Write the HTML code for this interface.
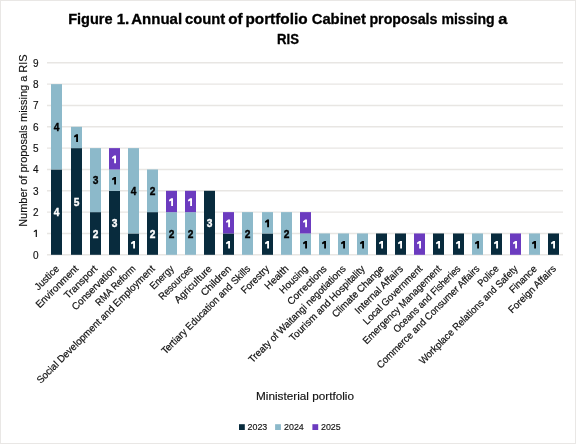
<!DOCTYPE html>
<html><head><meta charset="utf-8"><style>
html,body{margin:0;padding:0;background:#fff;}
svg{display:block;will-change:transform;font-family:"Liberation Sans",sans-serif;}
</style></head><body>
<svg width="576" height="444" viewBox="0 0 576 444">
<rect x="0.5" y="0.5" width="575" height="443" fill="#fff" stroke="#e9e7e5" stroke-width="1"/>
<text x="68.15" y="23.8" font-weight="bold" font-size="14.5" fill="#000" stroke="#000" stroke-width="0.3" textLength="44.45" lengthAdjust="spacingAndGlyphs">Figure</text>
<text x="116.70" y="23.8" font-weight="bold" font-size="14.5" fill="#000" stroke="#000" stroke-width="0.3" textLength="12.65" lengthAdjust="spacingAndGlyphs">1.</text>
<text x="131.30" y="23.8" font-weight="bold" font-size="14.5" fill="#000" stroke="#000" stroke-width="0.3" textLength="50.80" lengthAdjust="spacingAndGlyphs">Annual</text>
<text x="185.00" y="23.8" font-weight="bold" font-size="14.5" fill="#000" stroke="#000" stroke-width="0.3" textLength="40.20" lengthAdjust="spacingAndGlyphs">count</text>
<text x="228.15" y="23.8" font-weight="bold" font-size="14.5" fill="#000" stroke="#000" stroke-width="0.3" textLength="14.35" lengthAdjust="spacingAndGlyphs">of</text>
<text x="245.40" y="23.8" font-weight="bold" font-size="14.5" fill="#000" stroke="#000" stroke-width="0.3" textLength="62.20" lengthAdjust="spacingAndGlyphs">portfolio</text>
<text x="311.70" y="23.8" font-weight="bold" font-size="14.5" fill="#000" stroke="#000" stroke-width="0.3" textLength="54.30" lengthAdjust="spacingAndGlyphs">Cabinet</text>
<text x="369.40" y="23.8" font-weight="bold" font-size="14.5" fill="#000" stroke="#000" stroke-width="0.3" textLength="68.10" lengthAdjust="spacingAndGlyphs">proposals</text>
<text x="441.40" y="23.8" font-weight="bold" font-size="14.5" fill="#000" stroke="#000" stroke-width="0.3" textLength="53.20" lengthAdjust="spacingAndGlyphs">missing</text>
<text x="498.15" y="23.8" font-weight="bold" font-size="14.5" fill="#000" stroke="#000" stroke-width="0.3" textLength="9.15" lengthAdjust="spacingAndGlyphs">a</text>
<text x="288" y="44.3" text-anchor="middle" font-weight="bold" font-size="14.5" fill="#000" stroke="#000" stroke-width="0.3" textLength="22" lengthAdjust="spacingAndGlyphs">RIS</text>
<line x1="47" x2="563" y1="254.80" y2="254.80" stroke="#e8e6e3" stroke-width="1.4"/>
<text x="38.6" y="258.60" text-anchor="end" font-size="10" fill="#111" stroke="#111" stroke-width="0.15">0</text>
<line x1="47" x2="563" y1="233.47" y2="233.47" stroke="#e8e6e3" stroke-width="1.4"/>
<path d="M35.7,229.77H36.9V236.97H35.7V231.37L33.9,232.17L33.7,231.27Z" fill="#111"/>
<line x1="47" x2="563" y1="212.13" y2="212.13" stroke="#e8e6e3" stroke-width="1.4"/>
<text x="38.6" y="215.93" text-anchor="end" font-size="10" fill="#111" stroke="#111" stroke-width="0.15">2</text>
<line x1="47" x2="563" y1="190.80" y2="190.80" stroke="#e8e6e3" stroke-width="1.4"/>
<text x="38.6" y="194.60" text-anchor="end" font-size="10" fill="#111" stroke="#111" stroke-width="0.15">3</text>
<line x1="47" x2="563" y1="169.47" y2="169.47" stroke="#e8e6e3" stroke-width="1.4"/>
<text x="38.6" y="173.27" text-anchor="end" font-size="10" fill="#111" stroke="#111" stroke-width="0.15">4</text>
<line x1="47" x2="563" y1="148.13" y2="148.13" stroke="#e8e6e3" stroke-width="1.4"/>
<text x="38.6" y="151.93" text-anchor="end" font-size="10" fill="#111" stroke="#111" stroke-width="0.15">5</text>
<line x1="47" x2="563" y1="126.80" y2="126.80" stroke="#e8e6e3" stroke-width="1.4"/>
<text x="38.6" y="130.60" text-anchor="end" font-size="10" fill="#111" stroke="#111" stroke-width="0.15">6</text>
<line x1="47" x2="563" y1="105.47" y2="105.47" stroke="#e8e6e3" stroke-width="1.4"/>
<text x="38.6" y="109.27" text-anchor="end" font-size="10" fill="#111" stroke="#111" stroke-width="0.15">7</text>
<line x1="47" x2="563" y1="84.13" y2="84.13" stroke="#e8e6e3" stroke-width="1.4"/>
<text x="38.6" y="87.93" text-anchor="end" font-size="10" fill="#111" stroke="#111" stroke-width="0.15">8</text>
<line x1="47" x2="563" y1="62.80" y2="62.80" stroke="#e8e6e3" stroke-width="1.4"/>
<text x="38.6" y="66.60" text-anchor="end" font-size="10" fill="#111" stroke="#111" stroke-width="0.15">9</text>
<text transform="translate(26.8,140.6) rotate(-90)" text-anchor="middle" font-size="11.4" fill="#111" stroke="#111" stroke-width="0.15" textLength="172.5" lengthAdjust="spacingAndGlyphs">Number of proposals missing a RIS</text>
<rect x="51" y="169.47" width="11" height="85.33" fill="#082b3d"/>
<text x="56.50" y="216.23" text-anchor="middle" font-weight="bold" font-size="10.2" fill="#fff" stroke="#fff" stroke-width="0.35">4</text>
<rect x="51" y="84.13" width="11" height="85.33" fill="#8cb9ca"/>
<text x="56.50" y="130.90" text-anchor="middle" font-weight="bold" font-size="10.2" fill="#000" stroke="#000" stroke-width="0.35">4</text>
<text transform="translate(59.76,269.40) rotate(-45)" class="xl" text-anchor="end" font-size="10" fill="#111" stroke="#111" stroke-width="0.2" textLength="30.1" lengthAdjust="spacingAndGlyphs">Justice</text>
<rect x="71" y="148.13" width="11" height="106.67" fill="#082b3d"/>
<text x="76.50" y="205.57" text-anchor="middle" font-weight="bold" font-size="10.2" fill="#fff" stroke="#fff" stroke-width="0.35">5</text>
<rect x="71" y="126.80" width="11" height="21.33" fill="#8cb9ca"/>
<path d="M76.15,134.22H78.00V141.92H76.15V136.82L74.40,137.52L73.90,136.12Z" fill="#000"/>
<text transform="translate(78.87,269.40) rotate(-45)" class="xl" text-anchor="end" font-size="10" fill="#111" stroke="#111" stroke-width="0.2" textLength="55.38" lengthAdjust="spacingAndGlyphs">Environment</text>
<rect x="90" y="212.13" width="11" height="42.67" fill="#082b3d"/>
<text x="95.50" y="237.57" text-anchor="middle" font-weight="bold" font-size="10.2" fill="#fff" stroke="#fff" stroke-width="0.35">2</text>
<rect x="90" y="148.13" width="11" height="64.00" fill="#8cb9ca"/>
<text x="95.50" y="184.23" text-anchor="middle" font-weight="bold" font-size="10.2" fill="#000" stroke="#000" stroke-width="0.35">3</text>
<text transform="translate(97.98,269.40) rotate(-45)" class="xl" text-anchor="end" font-size="10" fill="#111" stroke="#111" stroke-width="0.2" textLength="42.31" lengthAdjust="spacingAndGlyphs">Transport</text>
<rect x="109" y="190.80" width="11" height="64.00" fill="#082b3d"/>
<text x="114.50" y="226.90" text-anchor="middle" font-weight="bold" font-size="10.2" fill="#fff" stroke="#fff" stroke-width="0.35">3</text>
<rect x="109" y="169.47" width="11" height="21.33" fill="#8cb9ca"/>
<path d="M114.15,176.88H116.00V184.58H114.15V179.48L112.40,180.18L111.90,178.78Z" fill="#000"/>
<rect x="109" y="148.13" width="11" height="21.33" fill="#6b3bbf"/>
<path d="M114.15,155.55H116.00V163.25H114.15V158.15L112.40,158.85L111.90,157.45Z" fill="#fff"/>
<text transform="translate(117.09,269.40) rotate(-45)" class="xl" text-anchor="end" font-size="10" fill="#111" stroke="#111" stroke-width="0.2" textLength="58.54" lengthAdjust="spacingAndGlyphs">Conservation</text>
<rect x="128" y="233.47" width="11" height="21.33" fill="#082b3d"/>
<path d="M133.15,240.88H135.00V248.58H133.15V243.48L131.40,244.18L130.90,242.78Z" fill="#fff"/>
<rect x="128" y="148.13" width="11" height="85.33" fill="#8cb9ca"/>
<text x="133.50" y="194.90" text-anchor="middle" font-weight="bold" font-size="10.2" fill="#000" stroke="#000" stroke-width="0.35">4</text>
<text transform="translate(136.20,269.40) rotate(-45)" class="xl" text-anchor="end" font-size="10" fill="#111" stroke="#111" stroke-width="0.2" textLength="52.32" lengthAdjust="spacingAndGlyphs">RMA Reform</text>
<rect x="147" y="212.13" width="11" height="42.67" fill="#082b3d"/>
<text x="152.50" y="237.57" text-anchor="middle" font-weight="bold" font-size="10.2" fill="#fff" stroke="#fff" stroke-width="0.35">2</text>
<rect x="147" y="169.47" width="11" height="42.67" fill="#8cb9ca"/>
<text x="152.50" y="194.90" text-anchor="middle" font-weight="bold" font-size="10.2" fill="#000" stroke="#000" stroke-width="0.35">2</text>
<text transform="translate(155.31,269.40) rotate(-45)" class="xl" text-anchor="end" font-size="10" fill="#111" stroke="#111" stroke-width="0.2" textLength="162.07" lengthAdjust="spacingAndGlyphs">Social Development and Employment</text>
<rect x="166" y="212.13" width="11" height="42.67" fill="#8cb9ca"/>
<text x="171.50" y="237.57" text-anchor="middle" font-weight="bold" font-size="10.2" fill="#000" stroke="#000" stroke-width="0.35">2</text>
<rect x="166" y="190.80" width="11" height="21.33" fill="#6b3bbf"/>
<path d="M171.15,198.22H173.00V205.92H171.15V200.82L169.40,201.52L168.90,200.12Z" fill="#fff"/>
<text transform="translate(174.42,269.40) rotate(-45)" class="xl" text-anchor="end" font-size="10" fill="#111" stroke="#111" stroke-width="0.2" textLength="29.19" lengthAdjust="spacingAndGlyphs">Energy</text>
<rect x="185" y="212.13" width="11" height="42.67" fill="#8cb9ca"/>
<text x="190.50" y="237.57" text-anchor="middle" font-weight="bold" font-size="10.2" fill="#000" stroke="#000" stroke-width="0.35">2</text>
<rect x="185" y="190.80" width="11" height="21.33" fill="#6b3bbf"/>
<path d="M190.15,198.22H192.00V205.92H190.15V200.82L188.40,201.52L187.90,200.12Z" fill="#fff"/>
<text transform="translate(193.53,269.40) rotate(-45)" class="xl" text-anchor="end" font-size="10" fill="#111" stroke="#111" stroke-width="0.2" textLength="43.97" lengthAdjust="spacingAndGlyphs">Resources</text>
<rect x="204" y="190.80" width="11" height="64.00" fill="#082b3d"/>
<text x="209.50" y="226.90" text-anchor="middle" font-weight="bold" font-size="10.2" fill="#fff" stroke="#fff" stroke-width="0.35">3</text>
<text transform="translate(212.64,269.40) rotate(-45)" class="xl" text-anchor="end" font-size="10" fill="#111" stroke="#111" stroke-width="0.2" textLength="48.75" lengthAdjust="spacingAndGlyphs">Agriculture</text>
<rect x="223" y="233.47" width="11" height="21.33" fill="#082b3d"/>
<path d="M228.15,240.88H230.00V248.58H228.15V243.48L226.40,244.18L225.90,242.78Z" fill="#fff"/>
<rect x="223" y="212.13" width="11" height="21.33" fill="#6b3bbf"/>
<path d="M228.15,219.55H230.00V227.25H228.15V222.15L226.40,222.85L225.90,221.45Z" fill="#fff"/>
<text transform="translate(231.76,269.40) rotate(-45)" class="xl" text-anchor="end" font-size="10" fill="#111" stroke="#111" stroke-width="0.2" textLength="38.33" lengthAdjust="spacingAndGlyphs">Children</text>
<rect x="242" y="212.13" width="11" height="42.67" fill="#8cb9ca"/>
<text x="247.50" y="237.57" text-anchor="middle" font-weight="bold" font-size="10.2" fill="#000" stroke="#000" stroke-width="0.35">2</text>
<text transform="translate(250.87,269.40) rotate(-45)" class="xl" text-anchor="end" font-size="10" fill="#111" stroke="#111" stroke-width="0.2" textLength="120.86" lengthAdjust="spacingAndGlyphs">Tertiary Education and Skills</text>
<rect x="262" y="233.47" width="11" height="21.33" fill="#082b3d"/>
<path d="M267.15,240.88H269.00V248.58H267.15V243.48L265.40,244.18L264.90,242.78Z" fill="#fff"/>
<rect x="262" y="212.13" width="11" height="21.33" fill="#8cb9ca"/>
<path d="M267.15,219.55H269.00V227.25H267.15V222.15L265.40,222.85L264.90,221.45Z" fill="#000"/>
<text transform="translate(269.98,269.40) rotate(-45)" class="xl" text-anchor="end" font-size="10" fill="#111" stroke="#111" stroke-width="0.2" textLength="35.29" lengthAdjust="spacingAndGlyphs">Forestry</text>
<rect x="281" y="212.13" width="11" height="42.67" fill="#8cb9ca"/>
<text x="286.50" y="237.57" text-anchor="middle" font-weight="bold" font-size="10.2" fill="#000" stroke="#000" stroke-width="0.35">2</text>
<text transform="translate(289.09,269.40) rotate(-45)" class="xl" text-anchor="end" font-size="10" fill="#111" stroke="#111" stroke-width="0.2" textLength="29.07" lengthAdjust="spacingAndGlyphs">Health</text>
<rect x="300" y="233.47" width="11" height="21.33" fill="#8cb9ca"/>
<path d="M305.15,240.88H307.00V248.58H305.15V243.48L303.40,244.18L302.90,242.78Z" fill="#000"/>
<rect x="300" y="212.13" width="11" height="21.33" fill="#6b3bbf"/>
<path d="M305.15,219.55H307.00V227.25H305.15V222.15L303.40,222.85L302.90,221.45Z" fill="#fff"/>
<text transform="translate(308.20,269.40) rotate(-45)" class="xl" text-anchor="end" font-size="10" fill="#111" stroke="#111" stroke-width="0.2" textLength="35.12" lengthAdjust="spacingAndGlyphs">Housing</text>
<rect x="319" y="233.47" width="11" height="21.33" fill="#8cb9ca"/>
<path d="M324.15,240.88H326.00V248.58H324.15V243.48L322.40,244.18L321.90,242.78Z" fill="#000"/>
<text transform="translate(327.31,269.40) rotate(-45)" class="xl" text-anchor="end" font-size="10" fill="#111" stroke="#111" stroke-width="0.2" textLength="50.99" lengthAdjust="spacingAndGlyphs">Corrections</text>
<rect x="338" y="233.47" width="11" height="21.33" fill="#8cb9ca"/>
<path d="M343.15,240.88H345.00V248.58H343.15V243.48L341.40,244.18L340.90,242.78Z" fill="#000"/>
<text transform="translate(346.42,269.40) rotate(-45)" class="xl" text-anchor="end" font-size="10" fill="#111" stroke="#111" stroke-width="0.2" textLength="132.99" lengthAdjust="spacingAndGlyphs">Treaty of Waitangi negotiations</text>
<rect x="357" y="233.47" width="11" height="21.33" fill="#8cb9ca"/>
<path d="M362.15,240.88H364.00V248.58H362.15V243.48L360.40,244.18L359.90,242.78Z" fill="#000"/>
<text transform="translate(365.53,269.40) rotate(-45)" class="xl" text-anchor="end" font-size="10" fill="#111" stroke="#111" stroke-width="0.2" textLength="102.19" lengthAdjust="spacingAndGlyphs">Tourism and Hospitality</text>
<rect x="376" y="233.47" width="11" height="21.33" fill="#082b3d"/>
<path d="M381.15,240.88H383.00V248.58H381.15V243.48L379.40,244.18L378.90,242.78Z" fill="#fff"/>
<text transform="translate(384.64,269.40) rotate(-45)" class="xl" text-anchor="end" font-size="10" fill="#111" stroke="#111" stroke-width="0.2" textLength="68.92" lengthAdjust="spacingAndGlyphs">Climate Change</text>
<rect x="395" y="233.47" width="11" height="21.33" fill="#082b3d"/>
<path d="M400.15,240.88H402.00V248.58H400.15V243.48L398.40,244.18L397.90,242.78Z" fill="#fff"/>
<text transform="translate(403.76,269.40) rotate(-45)" class="xl" text-anchor="end" font-size="10" fill="#111" stroke="#111" stroke-width="0.2" textLength="63.76" lengthAdjust="spacingAndGlyphs">Internal Affairs</text>
<rect x="414" y="233.47" width="11" height="21.33" fill="#6b3bbf"/>
<path d="M419.15,240.88H421.00V248.58H419.15V243.48L417.40,244.18L416.90,242.78Z" fill="#fff"/>
<text transform="translate(422.87,269.40) rotate(-45)" class="xl" text-anchor="end" font-size="10" fill="#111" stroke="#111" stroke-width="0.2" textLength="78.86" lengthAdjust="spacingAndGlyphs">Local Government</text>
<rect x="433" y="233.47" width="11" height="21.33" fill="#082b3d"/>
<path d="M438.15,240.88H440.00V248.58H438.15V243.48L436.40,244.18L435.90,242.78Z" fill="#fff"/>
<text transform="translate(441.98,269.40) rotate(-45)" class="xl" text-anchor="end" font-size="10" fill="#111" stroke="#111" stroke-width="0.2" textLength="106.4" lengthAdjust="spacingAndGlyphs">Emergency Management</text>
<rect x="453" y="233.47" width="11" height="21.33" fill="#082b3d"/>
<path d="M458.15,240.88H460.00V248.58H458.15V243.48L456.40,244.18L455.90,242.78Z" fill="#fff"/>
<text transform="translate(461.09,269.40) rotate(-45)" class="xl" text-anchor="end" font-size="10" fill="#111" stroke="#111" stroke-width="0.2" textLength="90.44" lengthAdjust="spacingAndGlyphs">Oceans and Fisheries</text>
<rect x="472" y="233.47" width="11" height="21.33" fill="#8cb9ca"/>
<path d="M477.15,240.88H479.00V248.58H477.15V243.48L475.40,244.18L474.90,242.78Z" fill="#000"/>
<text transform="translate(480.20,269.40) rotate(-45)" class="xl" text-anchor="end" font-size="10" fill="#111" stroke="#111" stroke-width="0.2" textLength="140.75" lengthAdjust="spacingAndGlyphs">Commerce and Consumer Affairs</text>
<rect x="491" y="233.47" width="11" height="21.33" fill="#082b3d"/>
<path d="M496.15,240.88H498.00V248.58H496.15V243.48L494.40,244.18L493.90,242.78Z" fill="#fff"/>
<text transform="translate(499.31,269.40) rotate(-45)" class="xl" text-anchor="end" font-size="10" fill="#111" stroke="#111" stroke-width="0.2" textLength="25.36" lengthAdjust="spacingAndGlyphs">Police</text>
<rect x="510" y="233.47" width="11" height="21.33" fill="#6b3bbf"/>
<path d="M515.15,240.88H517.00V248.58H515.15V243.48L513.40,244.18L512.90,242.78Z" fill="#fff"/>
<text transform="translate(518.42,269.40) rotate(-45)" class="xl" text-anchor="end" font-size="10" fill="#111" stroke="#111" stroke-width="0.2" textLength="134.77" lengthAdjust="spacingAndGlyphs">Workplace Relations and Safety</text>
<rect x="529" y="233.47" width="11" height="21.33" fill="#8cb9ca"/>
<path d="M534.15,240.88H536.00V248.58H534.15V243.48L532.40,244.18L531.90,242.78Z" fill="#000"/>
<text transform="translate(537.53,269.40) rotate(-45)" class="xl" text-anchor="end" font-size="10" fill="#111" stroke="#111" stroke-width="0.2" textLength="34.48" lengthAdjust="spacingAndGlyphs">Finance</text>
<rect x="548" y="233.47" width="11" height="21.33" fill="#082b3d"/>
<path d="M553.15,240.88H555.00V248.58H553.15V243.48L551.40,244.18L550.90,242.78Z" fill="#fff"/>
<text transform="translate(556.64,269.40) rotate(-45)" class="xl" text-anchor="end" font-size="10" fill="#111" stroke="#111" stroke-width="0.2" textLength="62.62" lengthAdjust="spacingAndGlyphs">Foreign Affairs</text>
<text x="305" y="400.3" text-anchor="middle" font-size="11" fill="#111" stroke="#111" stroke-width="0.15" textLength="98" lengthAdjust="spacingAndGlyphs">Ministerial portfolio</text>
<rect x="239" y="424.2" width="5.8" height="5.8" fill="#082b3d"/>
<text x="247.6" y="430.1" font-size="9.7" fill="#111" stroke="#111" stroke-width="0.15" textLength="19.7" lengthAdjust="spacingAndGlyphs">2023</text>
<rect x="275.1" y="424.2" width="5.8" height="5.8" fill="#8cb9ca"/>
<text x="284.1" y="430.1" font-size="9.7" fill="#111" stroke="#111" stroke-width="0.15" textLength="19.7" lengthAdjust="spacingAndGlyphs">2024</text>
<rect x="312.4" y="424.2" width="5.8" height="5.8" fill="#6b3bbf"/>
<text x="321" y="430.1" font-size="9.7" fill="#111" stroke="#111" stroke-width="0.15" textLength="19.7" lengthAdjust="spacingAndGlyphs">2025</text>
</svg></body></html>
